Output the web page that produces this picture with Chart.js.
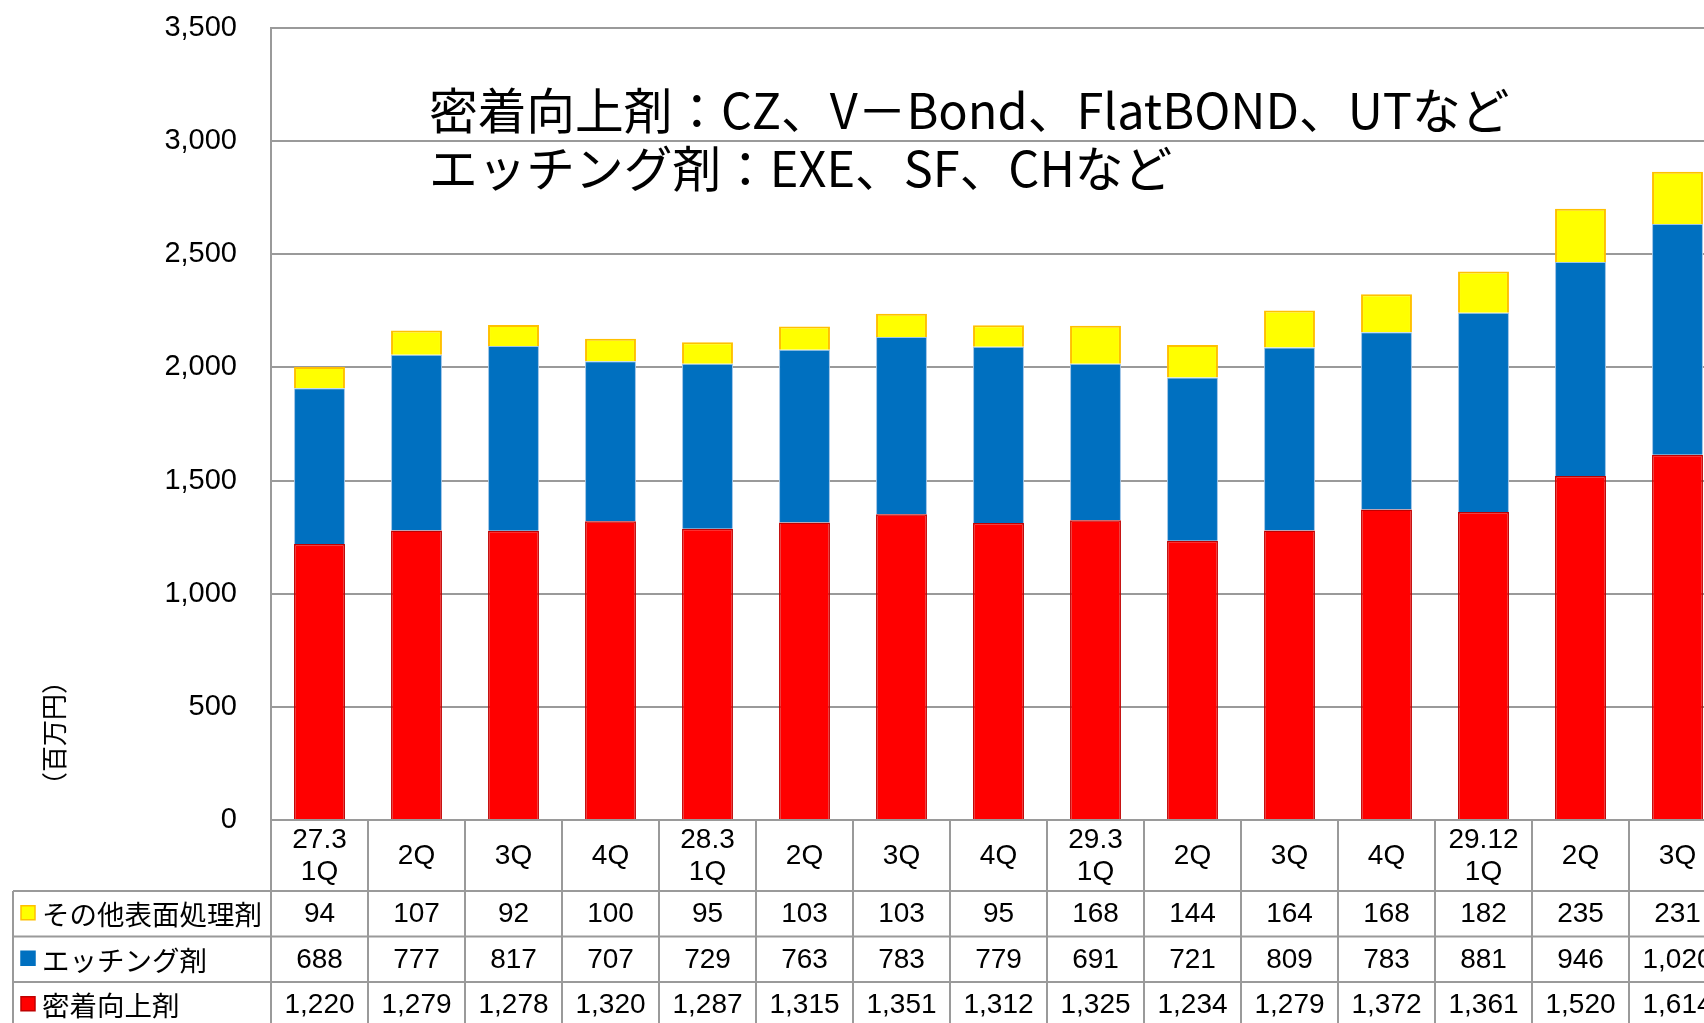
<!DOCTYPE html>
<html><head><meta charset="utf-8">
<script src="https://cdn.jsdelivr.net/npm/chart.js@4.4.1/dist/chart.umd.min.js"></script>
<style>html,body{margin:0;padding:0;background:#fff;overflow:hidden;width:1704px;height:1023px}canvas{display:block}</style>
</head><body>
<canvas id="c" width="1730" height="1023" style="width:1730px;height:1023px"></canvas>
<script>
const categories = [['27.3','1Q'],'2Q','3Q','4Q',['28.3','1Q'],'2Q','3Q','4Q',['29.3','1Q'],'2Q','3Q','4Q',['29.12','1Q'],'2Q','3Q'];
const seriesNames = ['密着向上剤','エッチング剤','その他表面処理剤'];
const adhesion = [1220,1279,1278,1320,1287,1315,1351,1312,1325,1234,1279,1372,1361,1520,1614];
const etching  = [688,777,817,707,729,763,783,779,691,721,809,783,881,946,1020];
const other    = [94,107,92,100,95,103,103,95,168,144,164,168,182,235,231];
const yTicks = [0,500,1000,1500,2000,2500,3000,3500];
const titleLines = ['密着向上剤：CZ、V－Bond、FlatBOND、UTなど','エッチング剤：EXE、SF、CHなど'];
const yTitle = '（百万円）';

const LAT = '"Liberation Sans", Arial, "Noto Sans CJK JP", sans-serif';
const CJK = '"Noto Sans CJK JP", "Liberation Sans", sans-serif';
const GRID = '#9a9a9a';

const tableRows = [
  {name: seriesNames[2], data: other,    fill:'#FFFF00', stroke:'#FFC000'},
  {name: seriesNames[1], data: etching,  fill:'#0070C0', stroke:'#0070C0'},
  {name: seriesNames[0], data: adhesion, fill:'#FF0000', stroke:'#C00000'}
];
const fmt = v => v.toLocaleString('en-US');

const tablePlugin = {
  id: 'tablePlugin',
  afterDraw(chart) {
    const ctx = chart.ctx, ca = chart.chartArea, x = chart.scales.x;
    const n = categories.length;
    const step = x.getPixelForValue(1) - x.getPixelForValue(0);
    const bounds = [];
    for (let i = 0; i < n; i++) bounds.push(x.getPixelForValue(i) - step/2);
    bounds.push(x.getPixelForValue(n-1) + step/2);
    const headerBottom = x.bottom;
    const rowH = 45.5;
    const H = chart.height, W = chart.width;
    ctx.save();
    ctx.strokeStyle = GRID; ctx.lineWidth = 2;
    for (let k = 0; k <= 3; k++) {
      const y = headerBottom + k*rowH;
      ctx.beginPath(); ctx.moveTo(13, y); ctx.lineTo(W, y); ctx.stroke();
    }
    bounds.forEach(b => { ctx.beginPath(); ctx.moveTo(b, ca.bottom); ctx.lineTo(b, H); ctx.stroke(); });
    ctx.beginPath(); ctx.moveTo(13, headerBottom); ctx.lineTo(13, H); ctx.stroke();
    tableRows.forEach((r, k) => {
      const cy = headerBottom + k*rowH + rowH/2;
      ctx.fillStyle = r.fill; ctx.strokeStyle = r.stroke; ctx.lineWidth = 1.5;
      ctx.fillRect(21, cy-8, 14, 14); ctx.strokeRect(21, cy-8, 14, 14);
      ctx.fillStyle = '#000'; ctx.font = '27.5px ' + CJK; ctx.textAlign = 'left'; ctx.textBaseline = 'middle';
      ctx.fillText(r.name, 42, cy + 1);
      ctx.font = '28px ' + LAT; ctx.textAlign = 'center';
      r.data.forEach((v, i) => ctx.fillText(fmt(v), x.getPixelForValue(i), cy + 1));
    });
    ctx.save();
    ctx.translate(54, 733); ctx.rotate(-Math.PI/2);
    ctx.font = '26px ' + CJK; ctx.textAlign = 'center'; ctx.textBaseline = 'middle'; ctx.fillStyle = '#000';
    ctx.fillText(yTitle, 0, 0);
    ctx.restore();
    ctx.font = '100px ' + CJK;
    const w = ctx.measureText(titleLines[0]).width;
    const fs = 100 * 1081 / w;
    ctx.font = fs.toFixed(1) + 'px ' + CJK;
    ctx.textAlign = 'left'; ctx.textBaseline = 'middle'; ctx.fillStyle = '#000';
    ctx.fillText(titleLines[0], 429, 110);
    ctx.fillText(titleLines[1], 429, 168);
    ctx.restore();
  }
};

new Chart(document.getElementById('c'), {
  type: 'bar',
  data: {
    labels: categories,
    datasets: [
      {label: seriesNames[0], data: adhesion, backgroundColor:'#FF0000', borderColor:'#C00000', borderWidth:1.5},
      {label: seriesNames[1], data: etching,  backgroundColor:'#0070C0', borderColor:'#9DC3E6', borderWidth:1},
      {label: seriesNames[2], data: other,    backgroundColor:'#FFFF00', borderColor:'#FFC000', borderWidth:2}
    ]
  },
  options: {
    responsive: false, animation: false, devicePixelRatio: 1,
    layout: {padding: {left: 0, top: 28, right: 4, bottom: 132}},
    plugins: {legend: {display: false}, tooltip: {enabled: false}, title: {display: false}},
    datasets: {bar: {categoryPercentage: 1, barPercentage: 0.525}},
    scales: {
      x: {
        stacked: true,
        grid: {display: false, drawTicks: false},
        border: {display: false},
        ticks: {color:'#000', font: {family: LAT, size: 28, lineHeight: 1.15}, padding: 20, crossAlign: 'center', maxRotation: 0, autoSkip: false},
        afterFit: s => { s.height = 71; s.paddingLeft = 0; s.paddingRight = 0; }
      },
      y: {
        stacked: true, min: yTicks[0], max: yTicks[yTicks.length-1],
        afterBuildTicks: s => { s.ticks = yTicks.map(v => ({value: v})); },
        grid: {color: GRID, lineWidth: 2, drawTicks: false},
        border: {display: true, color: GRID, width: 2},
        ticks: {color:'#000', font: {family: LAT, size: 29}, padding: 34, callback: v => fmt(v)},
        afterFit: s => { s.width = 271; s.paddingTop = 0; s.paddingBottom = 0; }
      }
    }
  },
  plugins: [tablePlugin]
});
</script>
</body></html>
